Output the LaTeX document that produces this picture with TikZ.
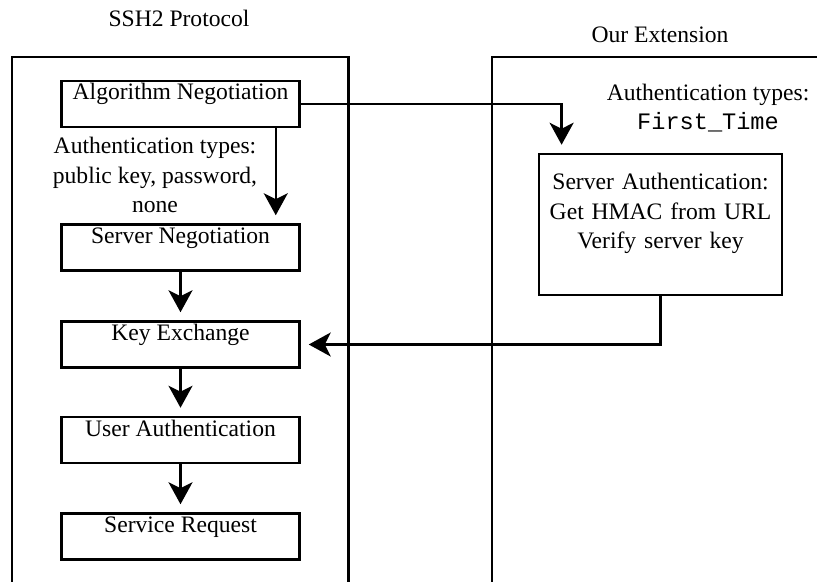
\documentclass[tikz,border=0pt]{standalone}
\usepackage{fontspec}
\setmainfont{Liberation Serif}
\setmonofont{Liberation Mono}
\usetikzlibrary{arrows.meta}
\begin{document}
\begin{tikzpicture}[
        x=0.5pt, y=-0.5pt,
        font=\fontsize{11.8}{14.75}\selectfont,
        panel/.style={draw, line width=1.25pt},
        stepbox/.style={
            draw,
            line width=1.25pt,
            minimum width=119pt,
            minimum height=23pt,
            inner ysep=1pt,
            text height=8.5pt,
            text depth=12.5pt
        },
        bigbox/.style={
            draw,
            line width=1.25pt,
            minimum width=119.5pt,
            text width=115pt,
            align=center,
            inner ysep=1pt,
            text height=17pt,
            text depth=51.5pt
        },
        label/.style={align=center, anchor=base, inner sep=0pt},
        line/.style={draw, line width=1.25pt, -{Stealth[length=11pt, width=12pt, inset=3pt]}, shorten >=4pt}
    ]
        \useasboundingbox (0,0) rectangle (817,582);

        \node[label] (ssh) at (179,27) {SSH2 Protocol};
        \node[label] (ext) at (660,43) {Our Extension};
        \draw[panel] (12,582) |- (348.5,57) -- (348.5,582);
        \draw[panel] (492,582) |- (817,57);

        \node[stepbox] (algo) at (180.5,104) {Algorithm Negotiation};
        \node[stepbox] (sneg) at (180.5,247.5) {Server Negotiation};
        \node[stepbox] (kex) at (180.5,344.5) {Key Exchange};
        \node[stepbox] (uauth) at (180.5,440) {User Authentication};
        \node[stepbox] (sreq) at (180.5,536.5) {Service Request};

        \node[label] (sshtypes) at (155,213) {Authentication types:\\public key, password,\\none};
        \node[label] (exttypes) at (708,130) {Authentication types:\\\texttt{First\_Time}};

        \node[bigbox] (sauth) at (660.5,224.5) {Server Authentication:\\Get HMAC from URL\\Verify server key};

        \draw[line] ([xshift=-12.5pt]algo.south east) -- ([xshift=-12.5pt]sneg.north east);
        \draw[line] (sneg.south) -- (kex.north);
        \draw[line] (kex.south) -- (uauth.north);
        \draw[line] (uauth.south) -- (sreq.north);
        \draw[line] (algo.east) -| ([xshift=12pt]sauth.north west);
        \draw[line] (sauth.south) |- (kex.east);
    \end{tikzpicture}
\end{document}
